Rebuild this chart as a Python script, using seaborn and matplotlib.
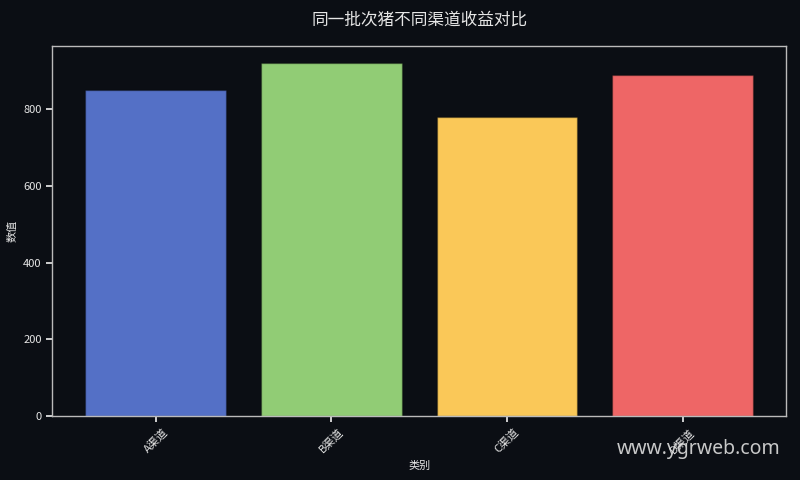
import matplotlib
matplotlib.use('Agg')
import matplotlib.pyplot as plt
import seaborn as sns
import pandas as pd

# ---------- data ----------
categories = ['A渠道', 'B渠道', 'C渠道', 'D渠道']
values = [850, 920, 780, 890]
colors = ['#5470c6', '#91cc75', '#fac858', '#ee6666']

BG = '#0b0e14'
FG = '#e6e6e6'

sns.set_theme(style='dark')
plt.rcParams['font.family'] = ['Noto Sans CJK SC', 'DejaVu Sans']
plt.rcParams['axes.unicode_minus'] = False

df = pd.DataFrame({'类别': categories, '数值': values})

fig, ax = plt.subplots(figsize=(8, 4.8), dpi=100)
fig.patch.set_facecolor(BG)
ax.set_facecolor(BG)

sns.barplot(data=df, x='类别', y='数值', hue='类别', palette=colors,
            legend=False, ax=ax, width=0.8, saturation=1,
            edgecolor=(0, 0, 0, 0.3), linewidth=1)

ax.set_title('同一批次猪不同渠道收益对比', color=FG, fontsize=12, pad=15)
ax.set_xlabel('类别', color=FG, fontsize=8)
ax.set_ylabel('数值', color=FG, fontsize=8)
ax.tick_params(colors=FG, labelsize=8, length=4, bottom=True, left=True)
ax.tick_params(axis='x', labelrotation=45)
ax.set_xlim(-0.59, 3.59)
ax.set_ylim(0, 966)
ax.set_yticks([0, 200, 400, 600, 800])
ax.grid(False)
for s in ax.spines.values():
    s.set_color('#bbbbbb')
    s.set_linewidth(1)
    s.set_visible(True)

fig.subplots_adjust(left=0.065, right=0.983, top=0.905, bottom=0.133)

fig.text(0.976, 0.065, 'www.ygrweb.com', color='#dddddd', alpha=0.9,
         fontsize=14, ha='right', va='center', family=['Noto Sans', 'DejaVu Sans'])

plt.savefig('out.png', dpi=100, facecolor=BG)
